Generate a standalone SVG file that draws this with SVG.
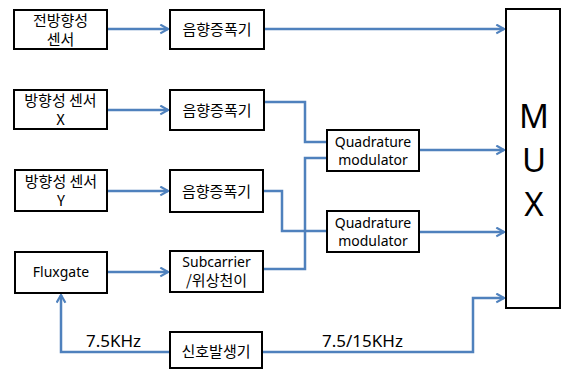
<svg xmlns="http://www.w3.org/2000/svg" width="563" height="370" viewBox="0 0 563 370">
<defs>
<style>
.box{fill:#fff;stroke:#000;stroke-width:2}
.t{font-family:"Malgun Gothic","Noto Sans CJK KR",sans-serif;font-size:15px;fill:#000;text-anchor:middle}
.q{font-family:"Noto Sans","Noto Sans CJK KR",sans-serif;font-size:14px;fill:#000;text-anchor:middle}
.lbl{font-family:"Noto Sans","Noto Sans CJK KR",sans-serif;font-size:17px;fill:#000}
.mux{font-family:"Noto Sans","Liberation Sans",sans-serif;font-size:33px;fill:#000;text-anchor:middle}
.c{fill:none;stroke:#4f81bd;stroke-width:2.5}
</style>
<marker id="a" viewBox="0 0 10 10" refX="9" refY="5" markerWidth="4.4" markerHeight="4.4" orient="auto" markerUnits="strokeWidth">
<polyline points="2,1 9,5 2,9" fill="none" stroke="#4f81bd" stroke-width="2"/>
</marker>
</defs>
<g id="connectors">
<path class="c" d="M107,29 H168" marker-end="url(#a)"/>
<path class="c" d="M264,29 H504" marker-end="url(#a)"/>
<path class="c" d="M107,110 H168" marker-end="url(#a)"/>
<path class="c" d="M264,102 H305 V142 H327"/>
<path class="c" d="M107,191 H168" marker-end="url(#a)"/>
<path class="c" d="M263,191 H282 V231 H327"/>
<path class="c" d="M107,272 H168" marker-end="url(#a)"/>
<path class="c" d="M263,269 H305 V158 H327"/>
<path class="c" d="M419,150 H504" marker-end="url(#a)"/>
<path class="c" d="M419,232 H504" marker-end="url(#a)"/>
<path class="c" d="M170,352 H61 V295" marker-end="url(#a)"/>
<path class="c" d="M262,352 H473 V298 H504" marker-end="url(#a)"/>
</g>
<g id="n1"><rect class="box" x="14" y="10" width="93" height="39"/><text class="t" x="60.5" y="26">전방향성</text><text class="t" x="60.5" y="45">센서</text></g>
<g id="amp1"><rect class="box" x="170" y="10" width="94" height="39"/><text class="t" x="217" y="35">음향증폭기</text></g>
<g id="n2"><rect class="box" x="14" y="90" width="93" height="39"/><text class="t" x="60.5" y="106">방향성 센서</text><text class="t" x="60.5" y="125">X</text></g>
<g id="amp2"><rect class="box" x="170" y="90" width="94" height="40"/><text class="t" x="217" y="115.5">음향증폭기</text></g>
<g id="n3"><rect class="box" x="15" y="170" width="92" height="41"/><text class="t" x="61" y="187">방향성 센서</text><text class="t" x="61" y="206">Y</text></g>
<g id="amp3"><rect class="box" x="170" y="170" width="93" height="42"/><text class="t" x="216.5" y="196.5">음향증폭기</text></g>
<g id="fluxgate"><rect class="box" x="15" y="252" width="92" height="41"/><text class="q" x="61" y="277">Fluxgate</text></g>
<g id="subcarrier"><rect class="box" x="170" y="251" width="93" height="41"/><text class="q" x="216.5" y="267">Subcarrier</text><text class="t" x="216.5" y="286">/위상천이</text></g>
<g id="quad1"><rect class="box" x="327" y="130" width="92" height="41"/><text class="q" x="373" y="147">Quadrature</text><text class="q" x="373" y="165">modulator</text></g>
<g id="quad2"><rect class="box" x="327" y="211" width="92" height="41"/><text class="q" x="373" y="228">Quadrature</text><text class="q" x="373" y="246">modulator</text></g>
<g id="gen"><rect class="box" x="170" y="332" width="92" height="36"/><text class="t" x="216" y="356.5">신호발생기</text></g>
<g id="mux"><rect class="box" x="506" y="9" width="54" height="299"/><text class="mux" x="534" y="128">M</text><text class="mux" x="534" y="172">U</text><text class="mux" x="534" y="216">X</text></g>
<text class="lbl" x="86" y="347">7.5KHz</text>
<text class="lbl" x="322" y="347">7.5/15KHz</text>
</svg>
